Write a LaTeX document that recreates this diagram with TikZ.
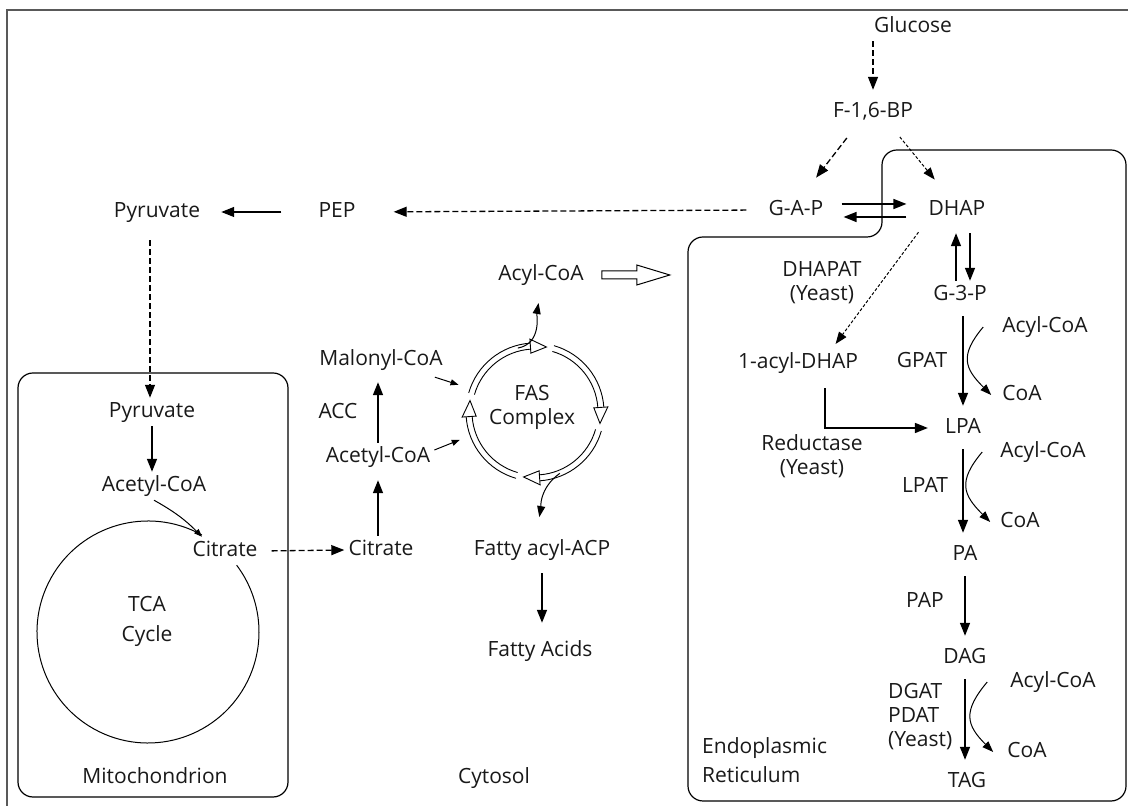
\documentclass[tikz,border=0pt]{standalone}
\usepackage{fontspec}
\setmainfont{Open Sans}
\usepackage{tikz}
\usetikzlibrary{arrows.meta,calc}
\tikzset{
  txt/.style = {inner xsep=4pt, inner ysep=4.5pt, text height=15pt, text depth=4pt},
  twoline/.style = {align=center, inner sep=2pt},
  flow/.style = {line width=1.4pt, -{Triangle[length=13pt,width=10pt]}},
  flowdash/.style = {flow, line width=1.3pt, dash pattern=on 6pt off 3pt},
  flowdot/.style = {line width=1pt, dash pattern=on 3pt off 2pt, -{Triangle[length=12pt,width=9pt]}},
  thinflow/.style = {line width=1pt, -{Triangle[length=11pt,width=8pt]}},
  coaflow/.style = {thinflow, looseness=1.4},
  nudge/.style = {line width=1pt, -{Triangle[length=8pt,width=6pt]}},
  erchain/.style = {shorten <=7pt, shorten >=8pt},
  membrane/.style = {line width=1.2pt, rounded corners=15pt},
  pageframe/.style = {line width=2pt, draw=black!65},
  pics/fasarc/.style = {
    code = {
    \draw[pic actions] (#1+84:69) arc[start angle=#1+84, end angle=#1+14, radius=69];
    \draw[pic actions] (#1+84:63) arc[start angle=#1+84, end angle=#1+14, radius=63];
    \draw[pic actions, fill=white] (#1+14:73) -- (#1:66) -- (#1+14:59) -- cycle;
    }
  }
}

\begin{document}
\begin{tikzpicture}[x=1pt, y=1pt, font=\fontsize{21}{24}\selectfont, text=black!90]
\useasboundingbox (0,0) rectangle (1128,806);
\draw[pageframe] (7,0) -- (7,796) -- (1128,796);

% compartments
\draw[membrane] (18,9) rectangle (288,433);
\draw[membrane] (688,300) -- (688,569) -- (882,569) -- (882,656) -- (1126,656) -- (1126,5) -- (688,5) -- cycle;

% glycolysis
\node[txt] (glucose) at (913,779) {Glucose};
\node[txt] (fbp) at (873,694) {F-1,6-BP};
\node[txt] (gap) at (796,596) {G-A-P};
\node[txt] (dhap) at (957,596) {DHAP};
\node[txt] (pep) at (337,594) {PEP};
\node[txt] (pyr) at (157,594) {Pyruvate};

% mitochondrion
\node[txt] (pyrm) at (152,394) {Pyruvate};
\node[txt] (acetylm) at (154,320) {Acetyl-CoA};
\coordinate (tcac) at (148,174);
\node[twoline, font=\fontsize{21}{30}\selectfont] (tca) at (147,185) {TCA\\Cycle};
\node[txt] (citratem) at (225,255) {Citrate};
\node[txt] (mito) at (155,28) {Mitochondrion};

% cytosol
\node[txt] (citratec) at (381,256) {Citrate};
\node[txt] (acetylc) at (378,349) {Acetyl-CoA};
\node[txt] (acc) at (338,393) {ACC};
\node[txt] (malonyl) at (381,446) {Malonyl-CoA};
\node[circle, minimum size=132pt, inner sep=0pt] (fas) at (535,394) {};
\node[twoline] (faslbl) at (532,399) {FAS\\Complex};
\node[txt] (acylcyt) at (541,531) {Acyl-CoA};
\node[txt] (fattyacp) at (542,256) {Fatty acyl-ACP};
\node[txt] (fattyacids) at (540,155) {Fatty Acids};
\node[txt] (cytosol) at (494,28) {Cytosol};

% endoplasmic reticulum
\node[txt] (g3p) at (960,511) {G-3-P};
\node[twoline] (dhapat) at (822,523) {DHAPAT\\(Yeast)};
\node[txt] (acyldhap) at (798,443) {1-acyl-DHAP};
\node[txt] (gpat) at (922,444) {GPAT};
\node[txt] (acyl1) at (1045,479) {Acyl-CoA};
\node[txt] (coa1) at (1022,411) {CoA};
\node[txt] (lpa) at (963,378) {LPA};
\node[twoline] (reductase) at (812,350) {Reductase\\(Yeast)};
\node[txt] (acyl2) at (1043,354) {Acyl-CoA};
\node[txt] (coa2) at (1020,284) {CoA};
\node[txt] (lpat) at (925,319) {LPAT};
\node[txt] (pa) at (965,251) {PA};
\node[txt] (pap) at (925,204) {PAP};
\node[txt] (dag) at (965,148) {DAG};
\node[twoline, align=left, anchor=west] (dgat) at (886,89) {DGAT\\PDAT\\(Yeast)};
\node[txt] (acyl3) at (1053,124) {Acyl-CoA};
\node[txt] (coa3) at (1027,54) {CoA};
\node[txt] (tag) at (967,24) {TAG};
\node[twoline, align=left, anchor=west, font=\fontsize{21}{29}\selectfont] (er) at (700,46) {Endoplasmic\\Reticulum};

% glycolysis arrows
\draw[flowdash, shorten >=8pt] ([xshift=-40pt]glucose.south) -- (fbp.north);
\draw[flowdash, shorten <=15pt, shorten >=23pt] ([xshift=-17pt]fbp.south) -- ([xshift=6pt]gap.north);
\draw[flowdot, shorten <=14pt, shorten >=21pt] ([xshift=18pt]fbp.south) -- ([xshift=-9pt]dhap.north);
\draw[flow, shorten <=14pt, shorten >=18pt] ([yshift=6pt]gap.east) -- ([yshift=6pt]dhap.west);
\draw[flow, shorten <=18pt, shorten >=16pt] ([yshift=-7pt]dhap.west) -- ([yshift=-7pt]gap.east);
\draw[flowdash, shorten <=18pt, shorten >=34pt] (gap.west) -- (pep.east);
\draw[flow, shorten <=33pt, shorten >=17pt] (pep.west) -- (pyr.east);
\draw[flowdash, shorten <=14pt] ([xshift=-7pt]pyr.south) -- ([xshift=-2pt]pyrm.north);

% mitochondrion arrows
\draw[flow] (pyrm.south) -- (pyrm.south |- acetylm.north);
\draw[nudge] (acetylm.south) to[bend left=8] ([xshift=-23pt]citratem.north);
\draw[flowdash, shorten <=10pt] (citratem.east) -- (citratec.west);
\draw[line width=1pt] ([shift={(61:111)}]tcac) arc[start angle=61, end angle=397, radius=111];

% cytosol arrows
\draw[flow, shorten >=9pt] (acetylc.south |- citratec.north) -- (acetylc.south);
\draw[flow, shorten >=8pt] (acetylc.north) -- (acetylc.north |- malonyl.south);
\draw[nudge, shorten >=15pt] ([xshift=-12pt, yshift=-3pt]malonyl.south east) -- (fas.160);
\draw[nudge, shorten >=14pt] ([yshift=7pt]acetylc.east) -- (fas.200);
\foreach \t in {80,-10,-100,170}
  \pic[line width=0.9pt] at (fas) {fasarc=\t};
\draw[thinflow, shorten >=14pt] (fas.105) to[out=10, in=260] (acylcyt.south);
\draw[thinflow, shorten >=19pt] (fas.292) to[out=215, in=80] ([xshift=-6pt]fattyacp.north);
\draw[line width=1pt] ([xshift=14pt]acylcyt.east) ++(0,4) -- ++(35,0) -- ++(0,6) -- ++(33,-10) -- ++(-33,-10) -- ++(0,6) -- ++(-35,0) -- cycle;
\draw[flow, shorten <=9pt, shorten >=14pt] (fattyacp.south) -- (fattyacp.south |- fattyacids.north);

% ER arrows
\draw[flow, shorten >=9pt] ([xshift=-4pt]g3p.north) -- ([xshift=-1pt]dhap.south);
\draw[flow, shorten <=9pt] ([xshift=13pt]dhap.south) -- ([xshift=10pt]g3p.north);
\draw[flowdot, shorten <=10pt, shorten >=6pt] (dhap.south west) -- ([xshift=34pt]acyldhap.north);
\draw[flow, erchain] ([xshift=3pt]g3p.south) -- (lpa.north);
\draw[flow, erchain] (lpa.south) -- (lpa.south |- pa.north);
\draw[flow, erchain] (pa.south) -- (pa.south |- dag.north);
\draw[flow, erchain] (dag.south) -- (dag.south |- tag.north);
\draw[flow, shorten <=11pt, shorten >=13pt] ([xshift=27pt]acyldhap.south) |- (lpa.west);
\draw[coaflow] ([xshift=-15pt]acyl1.west) to[out=230, in=135] ([xshift=-7pt]coa1.west);
\draw[coaflow] ([xshift=-14pt]acyl2.west) to[out=230, in=135] ([xshift=-6pt]coa2.west);
\draw[coaflow] ([xshift=-19pt]acyl3.west) to[out=230, in=135] ([xshift=-10pt]coa3.west);

\end{tikzpicture}
\end{document}
